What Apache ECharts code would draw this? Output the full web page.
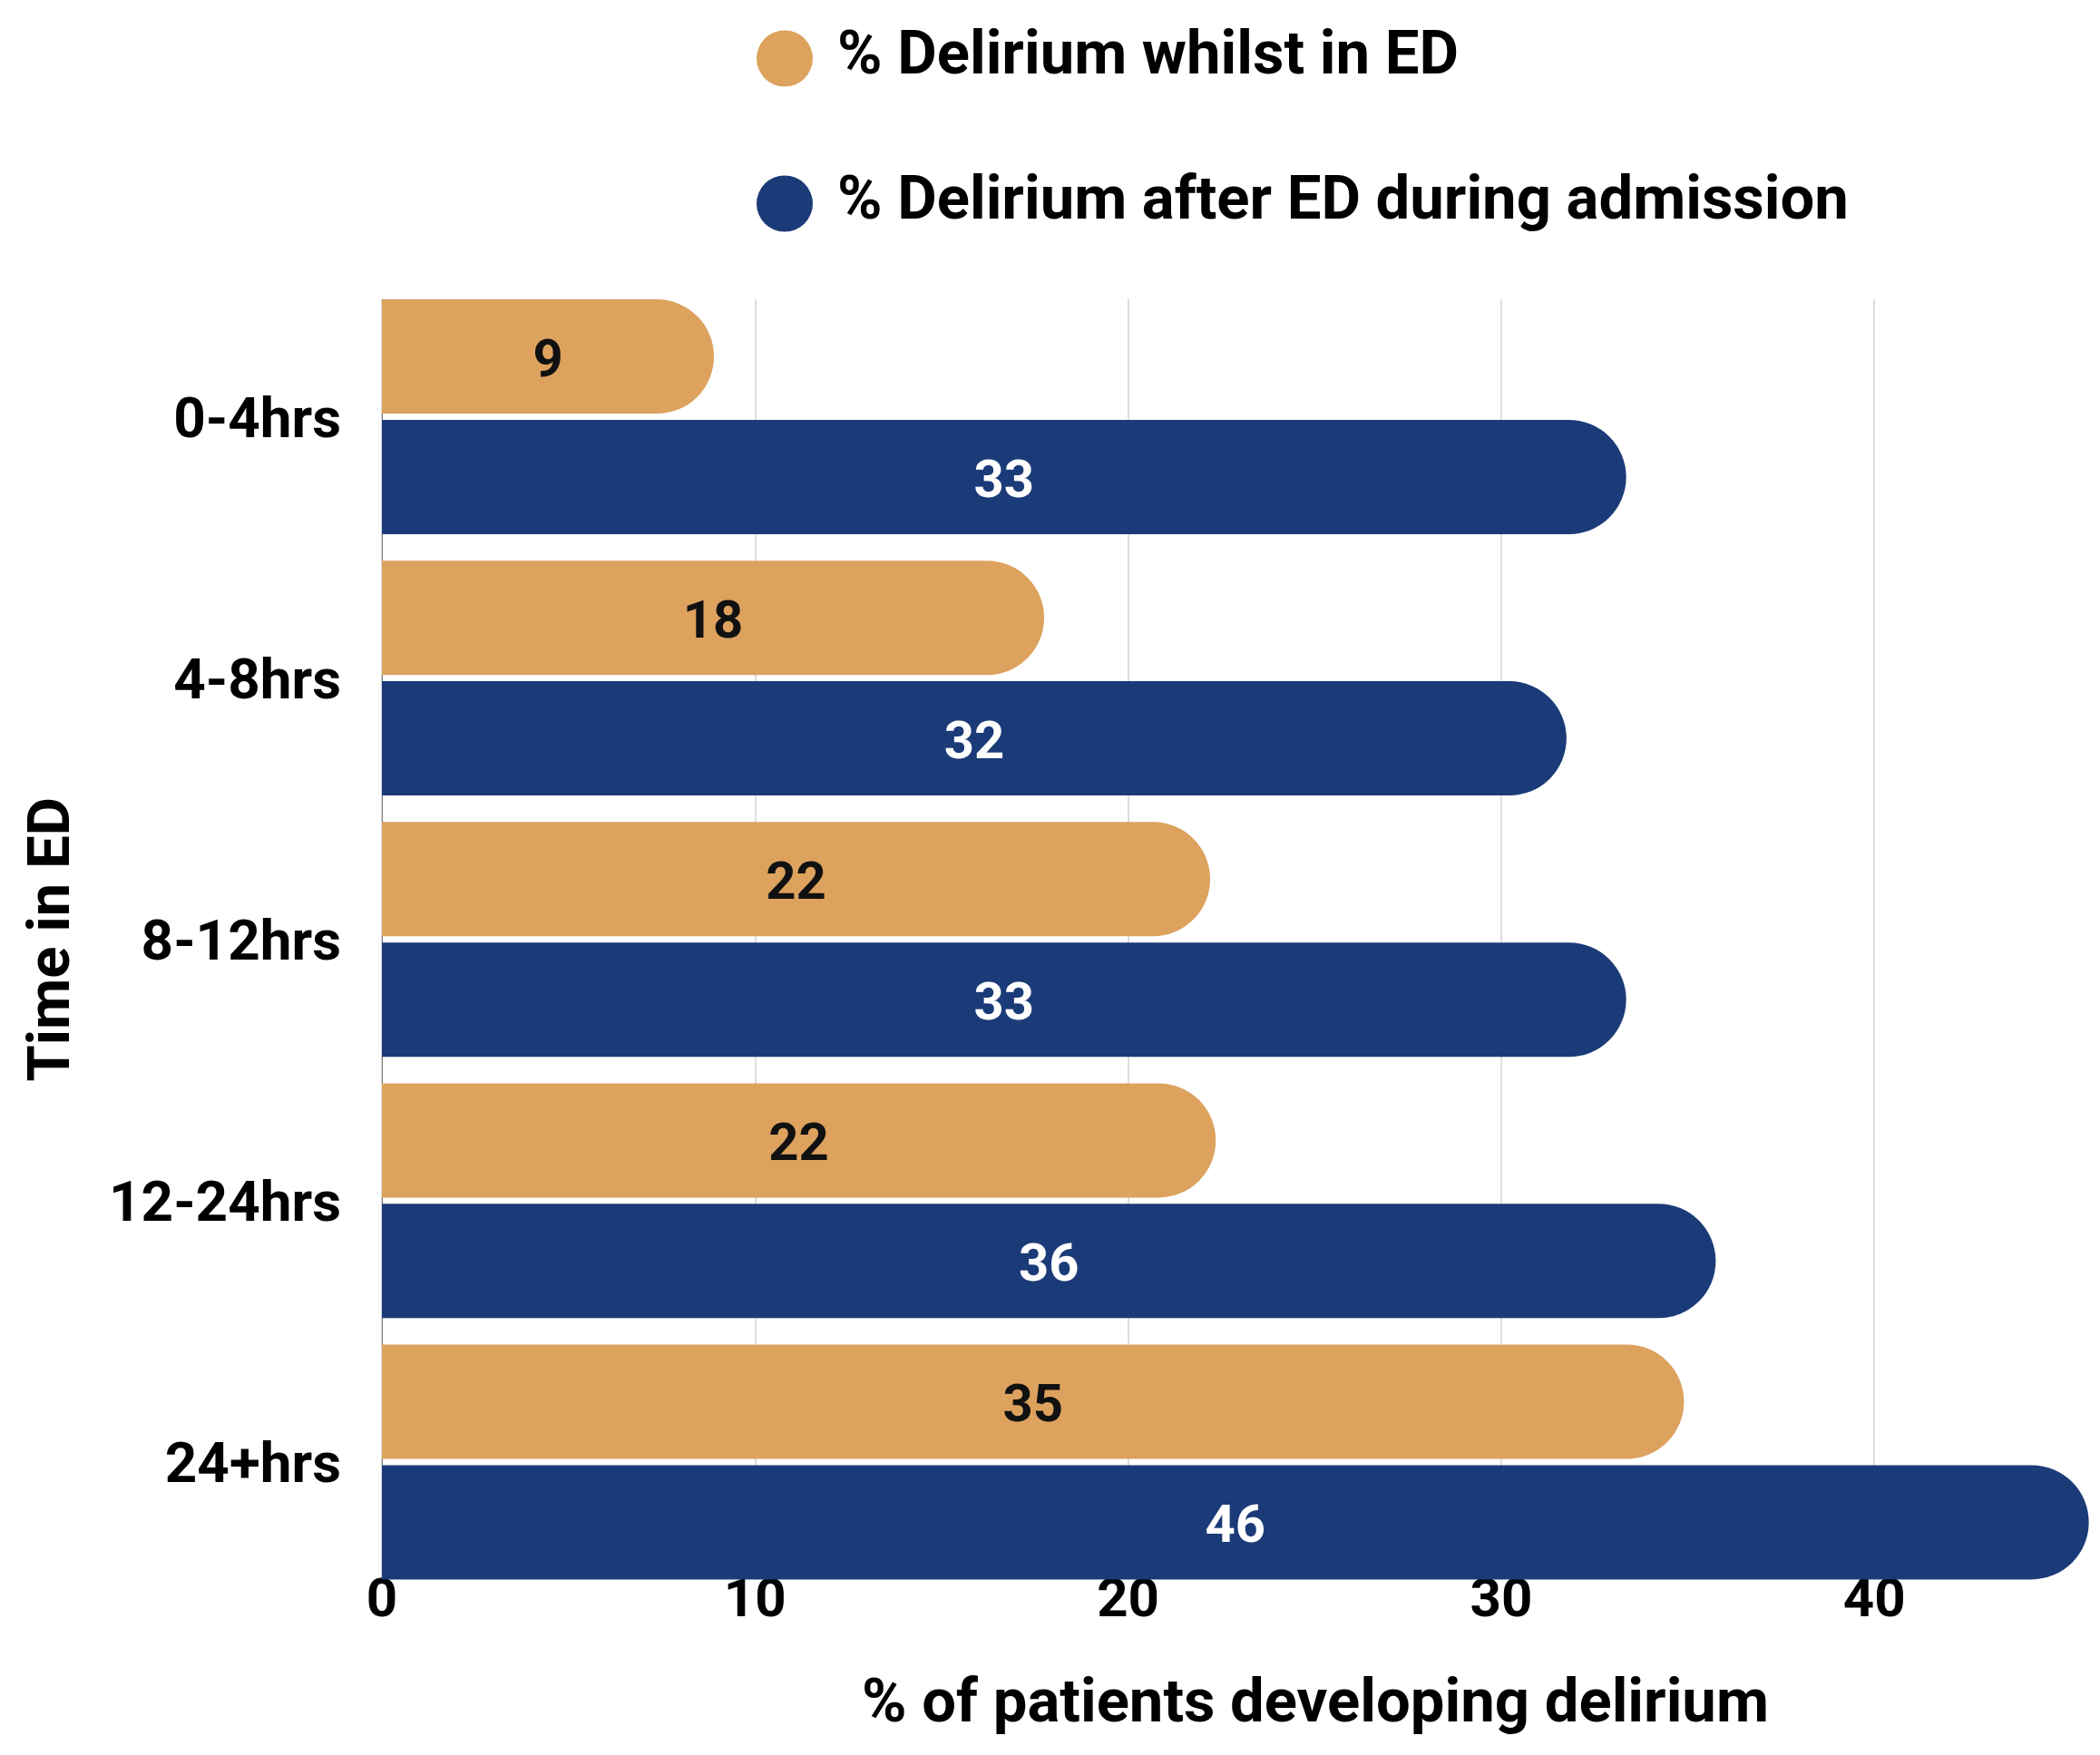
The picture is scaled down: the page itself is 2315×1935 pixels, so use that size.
<!DOCTYPE html>
<html>
<head>
<meta charset="utf-8">
<style>
  html, body { margin: 0; padding: 0; background: #fff; }
  #myCharts { width: 2315px; height: 1935px; }
</style>
<script src="https://cdn.jsdelivr.net/npm/echarts/dist/echarts.min.js"></script>
</head>
<body>
<div id="myCharts"></div>
<script>
// values (labels show them rounded)
var categories = ['0-4hrs', '4-8hrs', '8-12hrs', '12-24hrs', '24+hrs']
var seriesNames = ['% Delirium whilst in ED', '% Delirium after ED during admission']
var whilstInED = [8.9, 17.75, 22.2, 22.35, 34.9]
var afterED = [33.35, 31.75, 33.35, 35.75, 45.75]

var orange = '#DCA25E'
var navy = '#1B3B78'
var font = 'Roboto'
var xMax = 46.05

var myChart = echarts.init(document.getElementById('myCharts'))

function barSeries(name, data, color, labelColor) {
    return {
        name: name,
        type: 'bar',
        data: data,
        barWidth: 126,
        barGap: '5.5%',
        itemStyle: {
            color: color,
            borderRadius: [0, 63, 63, 0]
        },
        label: {
            show: true,
            position: 'inside',
            offset: [0, 7],
            color: labelColor,
            fontFamily: font,
            fontWeight: 'bold',
            fontSize: 58,
            formatter: function (p) {
                return Math.round(p.value)
            }
        }
    }
}

myChart.setOption({
    backgroundColor: '#fff',
    animation: false,
    legend: {
        orient: 'vertical',
        left: 829,
        top: 26,
        icon: 'circle',
        itemWidth: 62,
        itemHeight: 62,
        itemGap: 93,
        textStyle: {
            color: '#000',
            fontFamily: font,
            fontWeight: 'bold',
            fontSize: 67,
            padding: [0, 0, 0, 22]
        },
        data: seriesNames
    },
    grid: [
        // main plot: bars and labels
        { left: 421, right: 0, top: 315.5, bottom: 179 },
        // gridlines only, spanning from first bar top to last bar bottom
        { left: 421, right: 0, top: 330, bottom: 193 }
    ],
    xAxis: [{
        type: 'value',
        min: 0,
        max: xMax,
        interval: 10,
        name: '% of patients developing delirium',
        nameLocation: 'middle',
        nameGap: 92,
        nameTextStyle: {
            color: '#000',
            fontFamily: font,
            fontWeight: 'bold',
            fontSize: 67,
            padding: [0, 0, 0, 164]
        },
        axisLine: { show: false },
        axisTick: { show: false },
        axisLabel: {
            margin: -19,
            showMaxLabel: false,
            color: '#000',
            fontFamily: font,
            fontWeight: 'bold',
            fontSize: 60
        },
        splitLine: { show: false }
    }, {
        type: 'value',
        gridIndex: 1,
        min: 0,
        max: xMax,
        interval: 10,
        axisLine: { show: false },
        axisTick: { show: false },
        axisLabel: { show: false },
        splitLine: {
            showMaxLine: false,
            lineStyle: { color: '#dddddd', width: 2 }
        }
    }],
    yAxis: [{
        type: 'category',
        inverse: true,
        data: categories,
        name: 'Time in ED',
        nameLocation: 'middle',
        nameGap: 329,
        nameTextStyle: {
            color: '#000',
            fontFamily: font,
            fontWeight: 'bold',
            fontSize: 65
        },
        axisLine: { show: false },
        axisTick: { show: false },
        axisLabel: {
            margin: 45,
            verticalAlign: 'top',
            lineHeight: 14,
            color: '#000',
            fontFamily: font,
            fontWeight: 'bold',
            fontSize: 62
        }
    }, {
        type: 'value',
        gridIndex: 1,
        axisLine: { show: true, lineStyle: { color: '#777', width: 1 } },
        axisTick: { show: false },
        axisLabel: { show: false },
        splitLine: { show: false }
    }],
    series: [
        barSeries(seriesNames[0], whilstInED, orange, '#111'),
        barSeries(seriesNames[1], afterED, navy, '#fff')
    ]
})
</script>
</body>
</html>
